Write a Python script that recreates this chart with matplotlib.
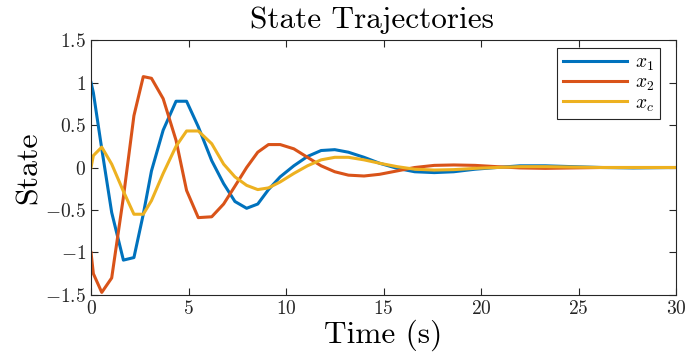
import matplotlib
matplotlib.use('Agg')
import matplotlib.pyplot as plt
from matplotlib.ticker import FuncFormatter

# Data
time = [0, 0.12, 0.55, 1.06, 1.66, 2.2, 2.68, 3.1, 3.7, 4.36, 4.9, 5.5, 6.19, 6.8,
        7.38, 7.98, 8.55, 9.1, 9.7, 10.4, 11.1, 11.8, 12.5, 13.2, 14.0, 14.8, 15.7,
        16.6, 17.6, 18.6, 19.7, 20.8, 22.0, 23.3, 24.7, 26.2, 27.8, 30.0]
x1 = [1.0, 0.88, 0.22, -0.53, -1.09, -1.06, -0.55, -0.04, 0.44, 0.78, 0.78, 0.48, 0.08,
      -0.19, -0.40, -0.48, -0.43, -0.26, -0.11, 0.02, 0.13, 0.20, 0.21, 0.18, 0.12, 0.05,
      -0.01, -0.05, -0.06, -0.05, -0.02, 0.0, 0.02, 0.02, 0.01, 0.0, -0.005, 0.0]
x2 = [-1.0, -1.25, -1.47, -1.30, -0.35, 0.61, 1.07, 1.05, 0.81, 0.32, -0.27, -0.59, -0.58,
      -0.43, -0.22, 0.0, 0.18, 0.27, 0.27, 0.22, 0.12, 0.02, -0.05, -0.09, -0.10, -0.08,
      -0.04, 0.0, 0.025, 0.03, 0.025, 0.01, -0.005, -0.01, -0.005, 0.0, 0.0, 0.0]
xc = [0.0, 0.14, 0.24, 0.04, -0.28, -0.55, -0.55, -0.39, -0.07, 0.25, 0.43, 0.43, 0.28,
      0.04, -0.11, -0.21, -0.26, -0.24, -0.17, -0.07, 0.02, 0.09, 0.12, 0.12, 0.09, 0.05,
      0.01, -0.02, -0.03, -0.025, -0.01, 0.0, 0.01, 0.01, 0.005, 0.0, 0.0, 0.0]
labels = [r'$x_1$', r'$x_2$', r'$x_c$']
xticks = [0, 5, 10, 15, 20, 25, 30]
yticks = [-1.5, -1, -0.5, 0, 0.5, 1, 1.5]

plt.rcParams['mathtext.fontset'] = 'cm'
plt.rcParams['font.family'] = 'serif'
plt.rcParams['font.serif'] = ['cmr10']
plt.rcParams['axes.formatter.use_mathtext'] = True

fig = plt.figure(figsize=(6.87, 3.61), dpi=100)
ax = fig.add_axes([0.1325, 0.183, 0.8515, 0.706])

colors = ['#0072BD', '#D95319', '#EDB120']
for y, lab, c in zip([x1, x2, xc], labels, colors):
    ax.plot(time, y, color=c, linewidth=2.2, label=lab)

ax.set_xlim(0, 30)
ax.set_ylim(-1.5, 1.5)
ax.set_xticks(xticks)
ax.set_yticks(yticks)
ax.xaxis.set_major_formatter(FuncFormatter(lambda v, p: r'$%g$' % v))
ax.yaxis.set_major_formatter(FuncFormatter(lambda v, p: r'$%g$' % v))
ax.tick_params(direction='in', top=True, right=True, length=5, width=0.8,
               labelsize=14, colors='#262626')
for s in ax.spines.values():
    s.set_color('#262626')
    s.set_linewidth(0.8)

ax.set_title('State Trajectories', fontsize=22.5, pad=9, color='#000000', x=0.48)
ax.set_xlabel('Time (s)', fontsize=22.5, labelpad=1)
ax.set_ylabel('State', fontsize=23, labelpad=2)

leg = ax.legend(loc='upper right', bbox_to_anchor=(0.9726, 0.9686), borderaxespad=0,
                fontsize=14, handlelength=3.3, fancybox=False, framealpha=1,
                edgecolor='#262626', borderpad=0.3, labelspacing=0.05,
                handletextpad=0.4)
leg.get_frame().set_linewidth(0.8)

plt.savefig('out.png', dpi=100)
